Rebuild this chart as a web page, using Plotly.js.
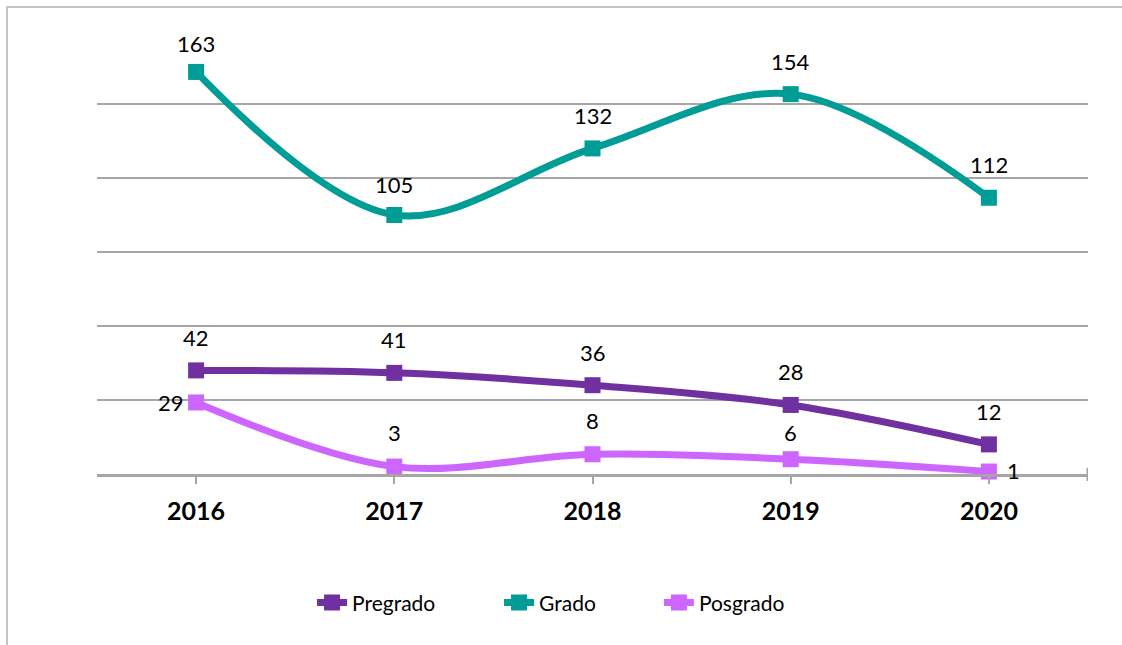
<!DOCTYPE html>
<html><head><meta charset="utf-8">
<script src="https://cdn.plot.ly/plotly-3.0.1.min.js"></script>
<style>
html,body{margin:0;padding:0;background:#fff;}
#chart{width:1122px;height:645px;position:absolute;left:0;top:0;}
#frame{position:absolute;left:6px;top:6px;width:1300px;height:800px;border-left:2px solid #c4c4c4;border-top:2px solid #c4c4c4;pointer-events:none;}
</style></head>
<body>
<div id="chart"></div><div id="frame"></div>
<script>
const years = ['2016','2017','2018','2019','2020'];
const pregrado = [42, 41, 36, 28, 12];
const grado = [163, 105, 132, 154, 112];
const posgrado = [29, 3, 8, 6, 1];

const colors = {Pregrado:'#7030A0', Grado:'#009C96', Posgrado:'#CC66FF'};
const font = 'Lato, "Open Sans", sans-serif';

function tr(name, vals, leg){
  return {x: years, y: vals, name: name, type:'scatter', mode:'lines+markers', legend: leg,
    line:{color:colors[name], width:7, shape:'spline', smoothing:1},
    marker:{symbol:'square', size:16, color:colors[name]}, cliponaxis:false};
}
const data = [tr('Pregrado', pregrado, 'legend'), tr('Grado', grado, 'legend2'), tr('Posgrado', posgrado, 'legend3')];

const annotations = [];
function labels(vals, shifts){
  vals.forEach((v,i)=>{
    const s = shifts ? shifts[i] : [0,33];
    annotations.push({x: i, y: v, text: String(v), showarrow:false,
      xshift: s[0], yshift: s[1], font:{family:font, size:22, color:'#000'}});
  });
}
labels(pregrado);
labels(grado, [[0,28],[0,31],[0,33],[0,33],[0,33]]);
labels(posgrado, [[-25,0],[0,34],[0,34],[0,27],[25,1]]);

function leg(x){
  return {orientation:'h', x:x, xanchor:'left', y:-0.29, yanchor:'middle',
    font:{family:font, size:21, color:'#000'}, bgcolor:'rgba(0,0,0,0)'};
}

const layout = {
  width:1122, height:645,
  margin:{l:97, r:34, t:30, b:171},
  paper_bgcolor:'#fff', plot_bgcolor:'#fff',
  showlegend:true,
  legend: leg(0.217), legend2: leg(0.4057), legend3: leg(0.567),
  xaxis:{type:'category', range:[-0.5,4.5], showgrid:false, zeroline:false,
    showline:true, linecolor:'#a6a6a6', linewidth:3,
    ticks:'outside', ticklen:7, tickwidth:2, tickcolor:'#a6a6a6',
    ticklabelstandoff:6,
    tickfont:{family:font, size:25, color:'#000', weight:'bold'}},
  yaxis:{range:[0,180], dtick:30, showticklabels:false, showgrid:true,
    gridcolor:'#a6a6a6', gridwidth:2, zeroline:false, showline:false, ticks:''},
  shapes:[{type:'line', xref:'x', yref:'paper', x0:4.5, x1:4.5, y0:-0.016, y1:0.014,
    line:{color:'#a6a6a6', width:3}}],
  annotations: annotations
};
Plotly.newPlot('chart', data, layout, {displayModeBar:false, staticPlot:true});
</script>
</body></html>
